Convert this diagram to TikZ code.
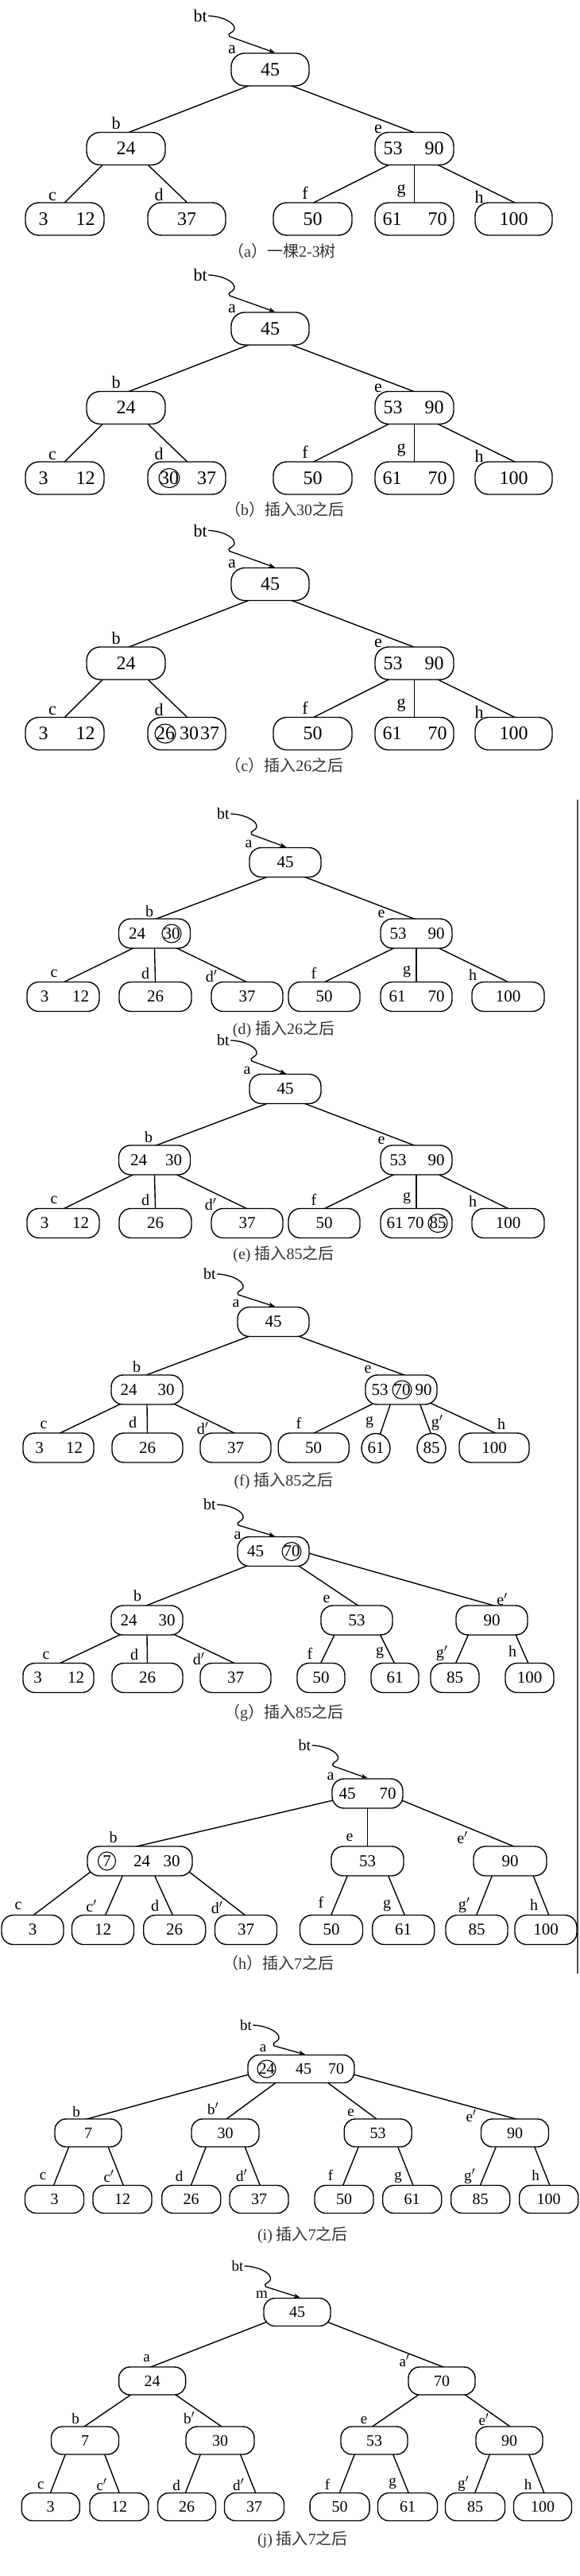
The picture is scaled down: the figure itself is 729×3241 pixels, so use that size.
\documentclass[tikz,border=0pt]{standalone}
\usepackage{fontspec}
\setmainfont{Liberation Serif}
\newfontfamily\cjk{Noto Sans CJK SC}
\usetikzlibrary{arrows.meta,calc,backgrounds,shapes.geometric}
\newcommand\zh[1]{{\cjk #1}}
\newcommand\fsz[1]{\fontsize{#1}{#1}\selectfont}
\newcommand\TE[4]{%
  \path ([xshift=#2pt]#1.south) coordinate (tmpP) ([xshift=#4pt]#3.north) coordinate (tmpC);
  \begin{pgfonlayer}{background}\draw[tedge] ($(tmpP)!-6pt!(tmpC)$) -- ($(tmpC)!-6pt!(tmpP)$);\end{pgfonlayer}}
\newcommand\TEc[5]{%
  \path ($(#1.center)+(#2,#3)$) coordinate (tmpP) ([xshift=#5pt]#4.north) coordinate (tmpC);
  \begin{pgfonlayer}{background}\draw[tedge] ($(tmpP)!-6pt!(tmpC)$) -- ($(tmpC)!-6pt!(tmpP)$);\end{pgfonlayer}}
\newcommand\WIG[4]{%
  \node[tlab, anchor=east, inner sep=1pt] (#1) at (#2,#3) {bt};
  \draw[twig] (#1.east) .. controls ({#2+15},#3) and ({#2+35},{#3+8}) .. ({#2+33},{#3+17}) .. controls ({#2+32},{#3+21}) and ({#2+23},{#3+22}) .. ({#2+27},{#3+26}) -- #4;}
\newcommand\RING[3]{\draw[tring] (#1.center) ellipse [x radius=#2pt, y radius=#3pt];}
\begin{document}
\begin{tikzpicture}[x=1pt,y=-1pt,
 tbox/.style={draw, fill=white, line width=1.4pt, rounded corners=17pt, minimum height=41pt, inner sep=0pt, font=\fsz{24}},
 tkey/.style={inner sep=0pt, font=\fsz{24}},
 tring/.style={line width=1.1pt},
 tlab/.style={inner sep=0pt, font=\fsz{22}},
 tedge/.style={line width=1.4pt},
 twig/.style={line width=1.3pt, -{Stealth[length=8pt,width=6pt]}},
 tcap/.style={inner sep=0pt, font=\fsz{20}, text=black!80},
 toval/.style={draw, fill=white, ellipse, line width=1.4pt, inner sep=0pt, minimum width=36pt, minimum height=37pt, font=\fsz{21}}]
\useasboundingbox (0,0) rectangle (729,3241);
\begin{pgfonlayer}{background}\fill[white] (0,0) rectangle (729,3241);\end{pgfonlayer}

% ================= (a) =================
\node[tbox, minimum width=98pt] (a1) at (340,87.5) {45};
\node[tbox, minimum width=99pt] (b1) at (158.5,187) {24};
\node[tbox, minimum width=99pt] (e1) at (521.5,187) {};
\node[tkey] (e1k1) at ([xshift=-27pt]e1.center) {53};
\node[tkey] (e1k2) at ([xshift=25pt]e1.center) {90};
\node[tbox, minimum width=99pt] (c1) at (81.5,275.5) {};
\node[tkey] (c1k1) at ([xshift=-27pt]c1.center) {3};
\node[tkey] (c1k2) at ([xshift=26pt]c1.center) {12};
\node[tbox, minimum width=98pt] (d1) at (235,275.5) {37};
\node[tbox, minimum width=99pt] (f1) at (393.5,275.5) {50};
\node[tbox, minimum width=99pt] (g1) at (521.5,275.5) {};
\node[tkey] (g1k1) at ([xshift=-28pt]g1.center) {61};
\node[tkey] (g1k2) at ([xshift=29pt]g1.center) {70};
\node[tbox, minimum width=97pt] (h1) at (646.5,275.5) {100};
\node[tlab] (l1a) at (292,62) {a};
\node[tlab] (l1b) at (146,155) {b};
\node[tlab] (l1e) at (476,162) {e};
\node[tlab] (l1c) at (66,247) {c};
\node[tlab] (l1d) at (200,245) {d};
\node[tlab] (l1f) at (384,243) {f};
\node[tlab] (l1g) at (505,240) {g};
\node[tlab] (l1h) at (603,248) {h};
\WIG{bt1}{262}{20}{([xshift=6pt]a1.north)}
\TE{a1}{-29}{b1}{5.5}
\TE{a1}{29}{e1}{-2.5}
\TE{b1}{-30}{c1}{0.5}
\TE{b1}{28.5}{d1}{0}
\TE{e1}{-33.5}{f1}{2.5}
\TE{e1}{0}{g1}{0}
\TE{e1}{31}{h1}{0}
\node[tcap] (cap1) at (355,316) {\zh{（}a\zh{）一棵}2-3\zh{树}};

% ================= (b) =================
\node[tbox, minimum width=98pt] (a2) at (340,413.5) {45};
\node[tbox, minimum width=99pt] (b2) at (158.5,513) {24};
\node[tbox, minimum width=99pt] (e2) at (521.5,513) {};
\node[tkey] (e2k1) at ([xshift=-27pt]e2.center) {53};
\node[tkey] (e2k2) at ([xshift=25pt]e2.center) {90};
\node[tbox, minimum width=99pt] (c2) at (81.5,601.5) {};
\node[tkey] (c2k1) at ([xshift=-27pt]c2.center) {3};
\node[tkey] (c2k2) at ([xshift=26pt]c2.center) {12};
\node[tbox, minimum width=98pt] (d2) at (235,601.5) {};
\node[tkey] (d2k1) at ([xshift=-22pt]d2.center) {30};
\RING{d2k1}{13}{12}
\node[tkey] (d2k2) at ([xshift=25pt]d2.center) {37};
\node[tbox, minimum width=99pt] (f2) at (393.5,601.5) {50};
\node[tbox, minimum width=99pt] (g2) at (521.5,601.5) {};
\node[tkey] (g2k1) at ([xshift=-28pt]g2.center) {61};
\node[tkey] (g2k2) at ([xshift=29pt]g2.center) {70};
\node[tbox, minimum width=97pt] (h2) at (646.5,601.5) {100};
\node[tlab] (l2a) at (292,388) {a};
\node[tlab] (l2b) at (146,481) {b};
\node[tlab] (l2e) at (476,488) {e};
\node[tlab] (l2c) at (66,573) {c};
\node[tlab] (l2d) at (200,571) {d};
\node[tlab] (l2f) at (384,569) {f};
\node[tlab] (l2g) at (505,566) {g};
\node[tlab] (l2h) at (603,574) {h};
\WIG{bt2}{262}{346}{([xshift=6pt]a2.north)}
\TE{a2}{-29}{b2}{5.5}
\TE{a2}{29}{e2}{-2.5}
\TE{b2}{-30}{c2}{0.5}
\TE{b2}{28.5}{d2}{0}
\TE{e2}{-33.5}{f2}{2.5}
\TE{e2}{0}{g2}{0}
\TE{e2}{31}{h2}{0}
\node[tcap] (cap2) at (358,641) {\zh{（}b\zh{）插入}30\zh{之后}};

% ================= (c) =================
\node[tbox, minimum width=98pt] (a3) at (340,735) {45};
\node[tbox, minimum width=99pt] (b3) at (158.5,834.5) {24};
\node[tbox, minimum width=99pt] (e3) at (521.5,834.5) {};
\node[tkey] (e3k1) at ([xshift=-27pt]e3.center) {53};
\node[tkey] (e3k2) at ([xshift=25pt]e3.center) {90};
\node[tbox, minimum width=99pt] (c3) at (81.5,923) {};
\node[tkey] (c3k1) at ([xshift=-27pt]c3.center) {3};
\node[tkey] (c3k2) at ([xshift=26pt]c3.center) {12};
\node[tbox, minimum width=98pt] (d3) at (235,923) {};
\node[tkey] (d3k1) at ([xshift=-27pt]d3.center) {26};
\RING{d3k1}{13}{12}
\node[tkey] (d3k2) at ([xshift=3pt]d3.center) {30};
\node[tkey] (d3k3) at ([xshift=29pt]d3.center) {37};
\node[tbox, minimum width=99pt] (f3) at (393.5,923) {50};
\node[tbox, minimum width=99pt] (g3) at (521.5,923) {};
\node[tkey] (g3k1) at ([xshift=-28pt]g3.center) {61};
\node[tkey] (g3k2) at ([xshift=29pt]g3.center) {70};
\node[tbox, minimum width=97pt] (h3) at (646.5,923) {100};
\node[tlab] (l3a) at (292,709.5) {a};
\node[tlab] (l3b) at (146,802.5) {b};
\node[tlab] (l3e) at (476,809.5) {e};
\node[tlab] (l3c) at (66,894.5) {c};
\node[tlab] (l3d) at (200,892.5) {d};
\node[tlab] (l3f) at (384,890.5) {f};
\node[tlab] (l3g) at (505,887.5) {g};
\node[tlab] (l3h) at (603,895.5) {h};
\WIG{bt3}{262}{667.5}{([xshift=6pt]a3.north)}
\TE{a3}{-29}{b3}{5.5}
\TE{a3}{29}{e3}{-2.5}
\TE{b3}{-30}{c3}{0.5}
\TE{b3}{28.5}{d3}{0}
\TE{e3}{-33.5}{f3}{2.5}
\TE{e3}{0}{g3}{0}
\TE{e3}{31}{h3}{0}
\node[tcap] (cap3) at (358,963) {\zh{（}c\zh{）插入}26\zh{之后}};

% right border line
\draw[line width=1.5pt, black!70] (727,1006) -- (727,2483);

\begin{scope}[tbox/.append style={minimum height=37pt, rounded corners=15pt, font=\fsz{21}},
  tkey/.append style={font=\fsz{21}}, tlab/.append style={font=\fsz{20}}]
% ================= (d) =================
\node[tbox, minimum width=90pt] (a4) at (359,1085) {45};
\node[tbox, minimum width=90pt] (b4) at (194.5,1174.5) {};
\node[tkey] (b4k1) at ([xshift=-22pt]b4.center) {24};
\node[tkey] (b4k2) at ([xshift=21.5pt]b4.center) {30};
\RING{b4k2}{12}{11.5}
\node[tbox, minimum width=90pt] (e4) at (524,1174.5) {};
\node[tkey] (e4k1) at ([xshift=-23pt]e4.center) {53};
\node[tkey] (e4k2) at ([xshift=25pt]e4.center) {90};
\node[tbox, minimum width=91pt] (c4) at (79.5,1254) {};
\node[tkey] (c4k1) at ([xshift=-23.5pt]c4.center) {3};
\node[tkey] (c4k2) at ([xshift=22pt]c4.center) {12};
\node[tbox, minimum width=91pt] (d4) at (195.5,1254) {26};
\node[tbox, minimum width=90pt] (d4p) at (311,1254) {37};
\node[tbox, minimum width=90pt] (f4) at (408,1254) {50};
\node[tbox, minimum width=90pt] (g4) at (524,1254) {};
\node[tkey] (g4k1) at ([xshift=-24pt]g4.center) {61};
\node[tkey] (g4k2) at ([xshift=25pt]g4.center) {70};
\node[tbox, minimum width=91pt] (h4) at (639.5,1254) {100};
\node[tlab] (l4a) at (313,1062) {a};
\node[tlab] (l4b) at (188,1147) {b};
\node[tlab] (l4e) at (480,1150) {e};
\node[tlab] (l4c) at (68,1225) {c};
\node[tlab] (l4d) at (183,1225) {d};
\node[tlab] (l4dp) at (266,1228) {d$'$};
\node[tlab] (l4f) at (395,1224) {f};
\node[tlab] (l4g) at (512,1223) {g};
\node[tlab] (l4h) at (595,1227) {h};
\WIG{bt4}{290}{1024}{([xshift=1pt]a4.north)}
\TE{a4}{-25}{b4}{4}
\TE{a4}{26.5}{e4}{-4.5}
\TE{b4}{-28.5}{c4}{2.5}
\TE{b4}{0}{d4}{0}
\TE{b4}{29.5}{d4p}{-2}
\TE{e4}{-30}{f4}{2}
\TE{e4}{0}{g4}{0}
\TE{e4}{30}{h4}{-1.5}
\node[tcap] (cap4) at (357,1295) {(d) \zh{插入}26\zh{之后}};

% ================= (e) =================
\node[tbox, minimum width=90pt] (a5) at (359,1370) {45};
\node[tbox, minimum width=90pt] (b5) at (194.5,1459.5) {};
\node[tkey] (b5k1) at ([xshift=-20pt]b5.center) {24};
\node[tkey] (b5k2) at ([xshift=24pt]b5.center) {30};
\node[tbox, minimum width=90pt] (e5) at (524,1459.5) {};
\node[tkey] (e5k1) at ([xshift=-23pt]e5.center) {53};
\node[tkey] (e5k2) at ([xshift=25pt]e5.center) {90};
\node[tbox, minimum width=91pt] (c5) at (79.5,1539) {};
\node[tkey] (c5k1) at ([xshift=-23.5pt]c5.center) {3};
\node[tkey] (c5k2) at ([xshift=22pt]c5.center) {12};
\node[tbox, minimum width=91pt] (d5) at (195.5,1539) {26};
\node[tbox, minimum width=90pt] (d5p) at (311,1539) {37};
\node[tbox, minimum width=90pt] (f5) at (408,1539) {50};
\node[tbox, minimum width=90pt] (g5) at (524,1539) {};
\node[tkey] (g5k1) at ([xshift=-27pt]g5.center) {61};
\node[tkey] (g5k2) at ([xshift=-1pt]g5.center) {70};
\node[tkey] (g5k3) at ([xshift=27pt]g5.center) {85};
\RING{g5k3}{12}{11.5}
\node[tbox, minimum width=91pt] (h5) at (639.5,1539) {100};
\node[tlab] (l5a) at (311,1347) {a};
\node[tlab] (l5b) at (187,1431) {b};
\node[tlab] (l5e) at (480,1435) {e};
\node[tlab] (l5c) at (68,1510) {c};
\node[tlab] (l5d) at (183,1510) {d};
\node[tlab] (l5dp) at (265,1515) {d$'$};
\node[tlab] (l5f) at (395,1509) {f};
\node[tlab] (l5g) at (512,1508) {g};
\node[tlab] (l5h) at (595,1512) {h};
\WIG{bt5}{290}{1309}{([xshift=1pt]a5.north)}
\TE{a5}{-25}{b5}{4}
\TE{a5}{26.5}{e5}{-4.5}
\TE{b5}{-28.5}{c5}{2.5}
\TE{b5}{0}{d5}{0}
\TE{b5}{29.5}{d5p}{-2}
\TE{e5}{-30}{f5}{2}
\TE{e5}{0}{g5}{0}
\TE{e5}{30}{h5}{-1.5}
\node[tcap] (cap5) at (357,1578) {(e) \zh{插入}85\zh{之后}};

% ================= (f) =================
\node[tbox, minimum width=90pt] (a6) at (344,1663) {45};
\node[tbox, minimum width=90pt] (b6) at (185,1748.5) {};
\node[tkey] (b6k1) at ([xshift=-23pt]b6.center) {24};
\node[tkey] (b6k2) at ([xshift=24pt]b6.center) {30};
\node[tbox, minimum width=90pt] (e6) at (505,1748.5) {};
\node[tkey] (e6k1) at ([xshift=-27pt]e6.center) {53};
\node[tkey] (e6k2) at ([xshift=1pt]e6.center) {70};
\RING{e6k2}{12}{11.5}
\node[tkey] (e6k3) at ([xshift=28pt]e6.center) {90};
\node[tbox, minimum width=89pt] (c6) at (73.5,1821.5) {};
\node[tkey] (c6k1) at ([xshift=-24pt]c6.center) {3};
\node[tkey] (c6k2) at ([xshift=20pt]c6.center) {12};
\node[tbox, minimum width=89pt] (d6) at (185.5,1821.5) {26};
\node[tbox, minimum width=89pt] (d6p) at (296.5,1821.5) {37};
\node[tbox, minimum width=89pt] (f6) at (394.7,1821.5) {50};
\node[toval] (g6) at (473,1822) {61};
\node[toval] (g6p) at (543,1822) {85};
\node[tbox, minimum width=88pt] (h6) at (622,1821.5) {100};
\node[tlab] (l6a) at (297,1640) {a};
\node[tlab] (l6b) at (172,1720) {b};
\node[tlab] (l6e) at (463,1723) {e};
\node[tlab] (l6c) at (55,1793) {c};
\node[tlab] (l6d) at (167,1790) {d};
\node[tlab] (l6dp) at (255,1797) {d$'$};
\node[tlab] (l6f) at (376,1790) {f};
\node[tlab] (l6g) at (465,1790) {g};
\node[tlab] (l6gp) at (550,1790) {g$'$};
\node[tlab] (l6h) at (631,1792) {h};
\WIG{bt6}{273}{1603}{([xshift=2pt]a6.north)}
\TE{a6}{-33}{b6}{1}
\TE{a6}{34.5}{e6}{2}
\TE{b6}{-36}{c6}{3.5}
\TE{b6}{0}{d6}{0}
\TE{b6}{37}{d6p}{-3}
\TE{e6}{-39}{f6}{2}
\TE{e6}{-14}{g6}{6}
\TE{e6}{24}{g6p}{-1}
\TE{e6}{42}{h6}{0}
\node[tcap] (cap6) at (357,1863) {(f) \zh{插入}85\zh{之后}};

% ================= (g) =================
\node[tbox, minimum width=90pt] (a7) at (344,1952) {};
\node[tkey] (a7k1) at ([xshift=-22.5pt]a7.center) {45};
\node[tkey] (a7k2) at ([xshift=23pt]a7.center) {70};
\RING{a7k2}{12}{11.5}
\node[tbox, minimum width=90pt] (b7) at (185,2038.5) {};
\node[tkey] (b7k1) at ([xshift=-23pt]b7.center) {24};
\node[tkey] (b7k2) at ([xshift=25pt]b7.center) {30};
\node[tbox, minimum width=90pt] (e7) at (449,2038.5) {53};
\node[tbox, minimum width=90pt] (e7p) at (619,2038.5) {90};
\node[tbox, minimum width=89pt] (c7) at (73.5,2111) {};
\node[tkey] (c7k1) at ([xshift=-26pt]c7.center) {3};
\node[tkey] (c7k2) at ([xshift=22pt]c7.center) {12};
\node[tbox, minimum width=89pt] (d7) at (185.5,2111) {26};
\node[tbox, minimum width=89pt] (d7p) at (296.5,2111) {37};
\node[tbox, minimum width=60pt] (f7) at (404,2111) {50};
\node[tbox, minimum width=60pt] (g7) at (497,2111) {61};
\node[tbox, minimum width=61pt] (g7p) at (572.5,2111) {85};
\node[tbox, minimum width=61pt] (h7) at (666.5,2111) {100};
\node[tlab] (l7a) at (299,1932) {a};
\node[tlab] (l7b) at (173,2008) {b};
\node[tlab] (l7e) at (411,2012) {e};
\node[tlab] (l7ep) at (632,2012) {e$'$};
\node[tlab] (l7c) at (58,2083) {c};
\node[tlab] (l7d) at (169,2082) {d};
\node[tlab] (l7dp) at (250,2087) {d$'$};
\node[tlab] (l7f) at (390,2080) {f};
\node[tlab] (l7g) at (478,2080) {g};
\node[tlab] (l7gp) at (556,2080) {g$'$};
\node[tlab] (l7h) at (645,2078) {h};
\WIG{bt7}{273}{1893}{([xshift=2pt]a7.north)}
\TE{a7}{-36}{b7}{1}
\TE{a7}{33.6}{e7}{0.5}
\TEc{a7}{44}{2}{e7p}{0}
\TE{b7}{-36}{c7}{3.5}
\TE{b7}{0}{d7}{0}
\TE{b7}{37}{d7p}{-3}
\TE{e7}{-28.4}{f7}{0}
\TE{e7}{30}{g7}{-1}
\TE{e7p}{-30}{g7p}{1.5}
\TE{e7p}{30.5}{h7}{-2}
\node[tcap] (cap7) at (357,2155) {\zh{（}g\zh{）插入}85\zh{之后}};

% ================= (h) =================
\node[tbox, minimum width=89pt] (a8) at (462.5,2256.5) {};
\node[tkey] (a8k1) at ([xshift=-25.5pt]a8.center) {45};
\node[tkey] (a8k2) at ([xshift=25.5pt]a8.center) {70};
\node[tbox, minimum width=132pt] (b8) at (176,2341.5) {};
\node[tkey] (b8k1) at ([xshift=-41.5pt]b8.center) {7};
\RING{b8k1}{11}{11.5}
\node[tkey] (b8k2) at ([xshift=2.5pt]b8.center) {24};
\node[tkey] (b8k3) at ([xshift=40pt]b8.center) {30};
\node[tbox, minimum width=91pt] (e8) at (462.5,2341.5) {53};
\node[tbox, minimum width=92pt] (e8p) at (642,2341.5) {90};
\node[tbox, minimum width=78pt] (c8) at (41,2428) {3};
\node[tbox, minimum width=78pt] (c8p) at (129.5,2428) {12};
\node[tbox, minimum width=78pt] (d8) at (219.7,2428) {26};
\node[tbox, minimum width=78pt] (d8p) at (309.5,2428) {37};
\node[tbox, minimum width=79pt] (f8) at (417,2428) {50};
\node[tbox, minimum width=78pt] (g8) at (507.7,2428) {61};
\node[tbox, minimum width=78pt] (g8p) at (600,2428) {85};
\node[tbox, minimum width=78pt] (h8) at (687,2428) {100};
\node[tlab] (l8a) at (416,2235) {a};
\node[tlab] (l8b) at (142.5,2312) {b};
\node[tlab] (l8e) at (440,2312) {e};
\node[tlab] (l8ep) at (582,2312) {e$'$};
\node[tlab] (l8c) at (23,2398) {c};
\node[tlab] (l8cp) at (115,2398) {c$'$};
\node[tlab] (l8d) at (195,2398) {d};
\node[tlab] (l8dp) at (273,2400) {d$'$};
\node[tlab] (l8f) at (404,2393) {f};
\node[tlab] (l8g) at (487,2397) {g};
\node[tlab] (l8gp) at (584,2397) {g$'$};
\node[tlab] (l8h) at (672,2397) {h};
\WIG{bt8}{392.5}{2196}{(a8.north)}
\TEc{a8}{-43}{8.5}{b8}{-1}
\TE{a8}{0}{e8}{0}
\TEc{a8}{43}{8.5}{e8p}{3}
\TEc{b8}{-62}{13.5}{c8}{2}
\TE{b8}{-22}{c8p}{3.5}
\TE{b8}{19}{d8}{-2.7}
\TEc{b8}{62}{13.5}{d8p}{-2}
\TE{e8}{-25.5}{f8}{0}
\TE{e8}{26.5}{g8}{1.3}
\TE{e8p}{-23}{g8p}{0}
\TE{e8p}{29.5}{h8}{3.6}
\node[tcap] (cap8) at (350,2470) {\zh{（}h\zh{）插入}7\zh{之后}};
\end{scope}

\begin{scope}[tbox/.append style={minimum height=35pt, rounded corners=14pt, font=\fsz{20}},
  tkey/.append style={font=\fsz{20}}, tlab/.append style={font=\fsz{19}}]
% ================= (i) =================
\node[tbox, minimum width=134pt] (a9) at (379,2603) {};
\node[tkey] (a9k1) at ([xshift=-43.5pt]a9.center) {24};
\RING{a9k1}{11.5}{11}
\node[tkey] (a9k2) at ([xshift=3pt]a9.center) {45};
\node[tkey] (a9k3) at ([xshift=44pt]a9.center) {70};
\node[tbox, minimum width=84pt] (b9) at (111,2683.5) {7};
\node[tbox, minimum width=85pt] (b9p) at (283.5,2683.5) {30};
\node[tbox, minimum width=85pt] (e9) at (475.7,2683.5) {53};
\node[tbox, minimum width=85pt] (e9p) at (648,2683.5) {90};
\node[tbox, minimum width=74pt] (c9) at (68.5,2767) {3};
\node[tbox, minimum width=74pt] (c9p) at (154,2767) {12};
\node[tbox, minimum width=74pt] (d9) at (240.7,2767) {26};
\node[tbox, minimum width=74pt] (d9p) at (326,2767) {37};
\node[tbox, minimum width=74pt] (f9) at (433,2767) {50};
\node[tbox, minimum width=74pt] (g9) at (518.7,2767) {61};
\node[tbox, minimum width=74pt] (g9p) at (604.7,2767) {85};
\node[tbox, minimum width=74pt] (h9) at (690.7,2767) {100};
\node[tlab] (l9a) at (331,2577) {a};
\node[tlab] (l9b) at (96,2657) {b};
\node[tlab] (l9bp) at (268,2653) {b$'$};
\node[tlab] (l9e) at (441.6,2658) {e};
\node[tlab] (l9ep) at (593,2662) {e$'$};
\node[tlab] (l9c) at (54,2738) {c};
\node[tlab] (l9cp) at (137,2738) {c$'$};
\node[tlab] (l9d) at (225.7,2738) {d};
\node[tlab] (l9dp) at (304,2737) {d$'$};
\node[tlab] (l9f) at (416,2737) {f};
\node[tlab] (l9g) at (501,2740) {g};
\node[tlab] (l9gp) at (591,2738) {g$'$};
\node[tlab] (l9h) at (674,2737) {h};
\WIG{bt9}{318}{2548}{([xshift=5pt]a9.north)}
\TEc{a9}{-66}{7}{b9}{1}
\TE{a9}{-33}{b9p}{2.5}
\TE{a9}{34.6}{e9}{-2.7}
\TEc{a9}{66}{7}{e9p}{-1}
\TE{b9}{-24.6}{c9}{-0.7}
\TE{b9}{25.4}{c9p}{1}
\TE{b9p}{-24.5}{d9}{0}
\TE{b9p}{25}{d9p}{1}
\TE{e9}{-24.7}{f9}{-1}
\TE{e9}{25.3}{g9}{1}
\TE{e9p}{-24}{g9p}{0}
\TE{e9p}{25}{h9}{1}
\node[tcap] (cap9) at (381,2812) {(i) \zh{插入}7\zh{之后}};

% ================= (j) =================
\node[tbox, minimum width=84pt] (m10) at (374,2909) {45};
\node[tbox, minimum width=84pt] (a10) at (191.6,2995.5) {24};
\node[tbox, minimum width=84pt] (a10p) at (556,2995.5) {70};
\node[tbox, minimum width=85pt] (b10) at (107,3070.5) {7};
\node[tbox, minimum width=86pt] (b10p) at (277,3070.5) {30};
\node[tbox, minimum width=84pt] (e10) at (471,3070.5) {53};
\node[tbox, minimum width=84pt] (e10p) at (641,3070.5) {90};
\node[tbox, minimum width=73pt] (c10) at (63.7,3154) {3};
\node[tbox, minimum width=74pt] (c10p) at (150,3154) {12};
\node[tbox, minimum width=73pt] (d10) at (235,3154) {26};
\node[tbox, minimum width=75pt] (d10p) at (320,3154) {37};
\node[tbox, minimum width=75pt] (f10) at (427.6,3154) {50};
\node[tbox, minimum width=75pt] (g10) at (513,3154) {61};
\node[tbox, minimum width=75pt] (g10p) at (598,3154) {85};
\node[tbox, minimum width=73pt] (h10) at (683,3154) {100};
\node[tlab] (l10m) at (329.4,2887) {m};
\node[tlab] (l10a) at (184.6,2967) {a};
\node[tlab] (l10ap) at (509,2970) {a$'$};
\node[tlab] (l10b) at (95,3043) {b};
\node[tlab] (l10bp) at (238,3042) {b$'$};
\node[tlab] (l10e) at (458,3045) {e};
\node[tlab] (l10ep) at (609,3044) {e$'$};
\node[tlab] (l10c) at (51.4,3127) {c};
\node[tlab] (l10cp) at (128,3126) {c$'$};
\node[tlab] (l10d) at (222,3127) {d};
\node[tlab] (l10dp) at (300,3126) {d$'$};
\node[tlab] (l10f) at (412,3126) {f};
\node[tlab] (l10g) at (494,3125) {g};
\node[tlab] (l10gp) at (583,3125) {g$'$};
\node[tlab] (l10h) at (664.5,3126) {h};
\WIG{bt10}{307.5}{2851}{([xshift=3.6pt]m10.north)}
\TEc{m10}{-40}{13}{a10}{0}
\TEc{m10}{39.6}{13}{a10p}{0}
\TE{a10}{-28}{b10}{0}
\TE{a10}{30.4}{b10p}{1}
\TE{a10p}{-30.3}{e10}{-1.4}
\TE{a10p}{30.4}{e10p}{0}
\TE{b10}{-25}{c10}{0}
\TE{b10}{25}{c10p}{0}
\TE{b10p}{-25}{d10}{-1.4}
\TE{b10p}{25.8}{d10p}{1.5}
\TE{e10}{-25}{f10}{0}
\TE{e10}{24}{g10}{1}
\TE{e10p}{-25}{g10p}{0}
\TE{e10p}{25}{h10}{1.6}
\node[tcap] (cap10) at (381,3195) {(j) \zh{插入}7\zh{之后}};
\end{scope}
\end{tikzpicture}
\end{document}
